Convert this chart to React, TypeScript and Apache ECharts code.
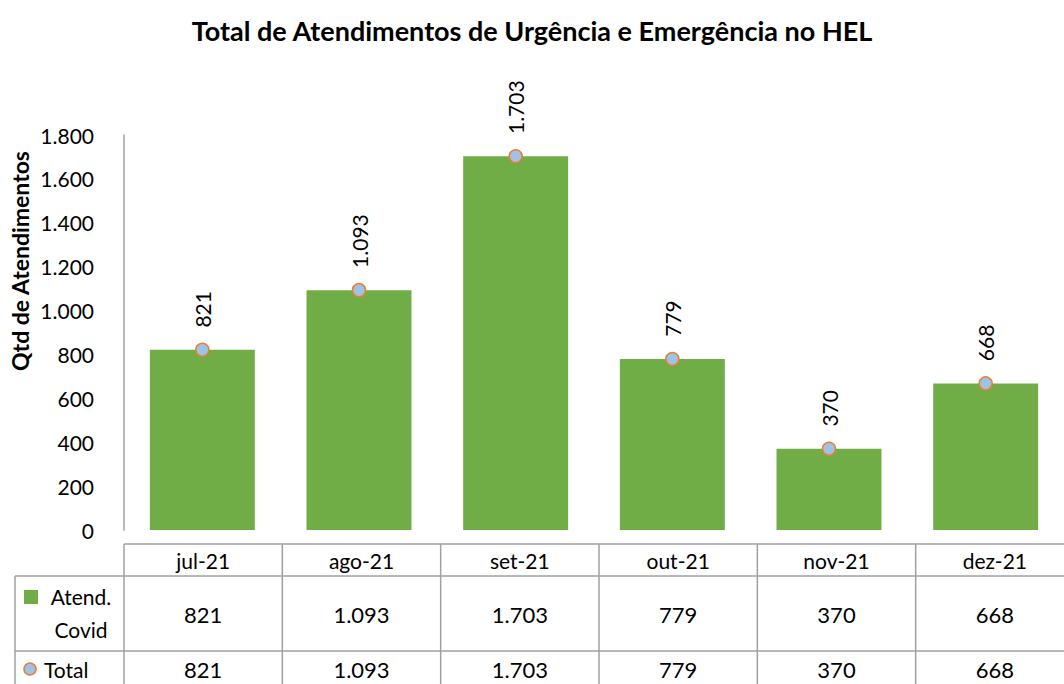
import React, { useEffect, useRef } from "react";
import * as echarts from "echarts";

const categories = ["jul-21", "ago-21", "set-21", "out-21", "nov-21", "dez-21"];
const atendCovid = [821, 1093, 1703, 779, 370, 668];
const total = [821, 1093, 1703, 779, 370, 668];
const yTicks = [0, 200, 400, 600, 800, 1000, 1200, 1400, 1600, 1800];

const FONT = "Lato";
const fmt = (n: number) => String(n).replace(/\B(?=(\d{3})+(?!\d))/g, ".");

export default function App() {
  const ref = useRef<HTMLDivElement>(null);
  useEffect(() => {
    if (!ref.current) return;
    const chart = echarts.init(ref.current, null, { renderer: "svg" });
    const gridLeft = 124;
    const gridWidth = 950;
    const gridTop = 135;
    const gridBottom = 154;
    const catW = gridWidth / categories.length;
    const lineColor = "#a0a0a0";
    const tableRight = gridLeft + gridWidth;
    const yHeader = 544, yRow1 = 576, yRow2 = 651, yEnd = 700;
    const legendLeft = 15;
    const tf = `21px ${FONT}`;
    const nf = `22px ${FONT}`;

    const graphics: any[] = [];
    graphics.push({ type: "line", shape: { x1: gridLeft, y1: yHeader, x2: tableRight, y2: yHeader }, style: { stroke: lineColor, lineWidth: 1.5 } });
    graphics.push({ type: "line", shape: { x1: legendLeft, y1: yRow1, x2: tableRight, y2: yRow1 }, style: { stroke: lineColor, lineWidth: 1.5 } });
    graphics.push({ type: "line", shape: { x1: legendLeft, y1: yRow2, x2: tableRight, y2: yRow2 }, style: { stroke: lineColor, lineWidth: 1.5 } });
    graphics.push({ type: "line", shape: { x1: legendLeft, y1: yRow1, x2: legendLeft, y2: yEnd }, style: { stroke: lineColor, lineWidth: 1.5 } });
    for (let i = 0; i <= categories.length; i++) {
      const x = gridLeft + i * catW;
      graphics.push({ type: "line", shape: { x1: x, y1: yHeader, x2: x, y2: yEnd }, style: { stroke: lineColor, lineWidth: 1.5 } });
    }
    categories.forEach((c, i) => {
      const cx = gridLeft + (i + 0.5) * catW;
      graphics.push({ type: "text", x: cx, y: (yHeader + yRow1) / 2, style: { text: c, font: tf, fill: "#000", align: "center", verticalAlign: "middle" } });
      graphics.push({ type: "text", x: cx, y: (yRow1 + yRow2) / 2 + 1, style: { text: fmt(atendCovid[i]), font: nf, fill: "#000", align: "center", verticalAlign: "middle" } });
      graphics.push({ type: "text", x: cx, y: 669, style: { text: fmt(total[i]), font: nf, fill: "#000", align: "center", verticalAlign: "middle" } });
    });
    graphics.push({ type: "rect", shape: { x: 24, y: 590, width: 14, height: 14 }, style: { fill: "#70AD47" } });
    graphics.push({ type: "text", x: 81, y: 596, style: { text: "Atend.", font: tf, fill: "#000", align: "center", verticalAlign: "middle" } });
    graphics.push({ type: "text", x: 81, y: 629, style: { text: "Covid", font: tf, fill: "#000", align: "center", verticalAlign: "middle" } });
    graphics.push({ type: "circle", shape: { cx: 30, cy: 669, r: 6 }, style: { fill: "#9DC3E6", stroke: "#ED7D31", lineWidth: 1.5 } });
    graphics.push({ type: "text", x: 44, y: 669, style: { text: "Total", font: tf, fill: "#000", align: "left", verticalAlign: "middle" } });
    graphics.push({ type: "text", x: 20, y: 261, rotation: Math.PI / 2, style: { text: "Qtd de Atendimentos", font: `bold 23px ${FONT}`, fill: "#000", align: "center", verticalAlign: "middle" } });

    chart.setOption({
      animation: false,
      backgroundColor: "#fff",
      title: {
        text: "Total de Atendimentos de Urgência e Emergência no HEL",
        left: "center",
        top: 12,
        textStyle: { fontFamily: FONT, fontWeight: "bold", fontSize: 27, color: "#000" },
      },
      grid: { left: gridLeft, width: gridWidth, top: gridTop, bottom: gridBottom },
      xAxis: {
        type: "category",
        data: categories,
        axisLine: { show: false },
        axisTick: { show: false },
        axisLabel: { show: false },
      },
      yAxis: {
        type: "value",
        min: 0,
        max: yTicks[yTicks.length - 1],
        interval: 200,
        axisLine: { show: true, lineStyle: { color: "#a0a0a0", width: 1.5 } },
        axisTick: { show: false },
        splitLine: { show: false },
        axisLabel: { fontFamily: FONT, fontSize: 21, color: "#000", margin: 30, formatter: (v: number) => fmt(v) },
      },
      series: [
        {
          name: "Atend. Covid",
          type: "bar",
          data: atendCovid,
          barWidth: "67%",
          itemStyle: { color: "#70AD47" },
        },
        {
          name: "Total",
          type: "line",
          data: total,
          symbol: "circle",
          symbolSize: 13,
          lineStyle: { width: 0, opacity: 0 },
          itemStyle: { color: "#9DC3E6", borderColor: "#ED7D31", borderWidth: 1.5 },
          label: {
            show: true,
            position: "top",
            distance: 15,
            rotate: 90,
            align: "left",
            verticalAlign: "middle",
            fontFamily: FONT,
            fontSize: 21,
            color: "#000",
            formatter: (p: any) => fmt(p.value),
          },
          z: 5,
        },
      ],
      graphic: graphics,
    });
    return () => chart.dispose();
  }, []);
  return <div ref={ref} style={{ position: "fixed", left: 0, top: 0, width: 1064, height: 684 }} />;
}
